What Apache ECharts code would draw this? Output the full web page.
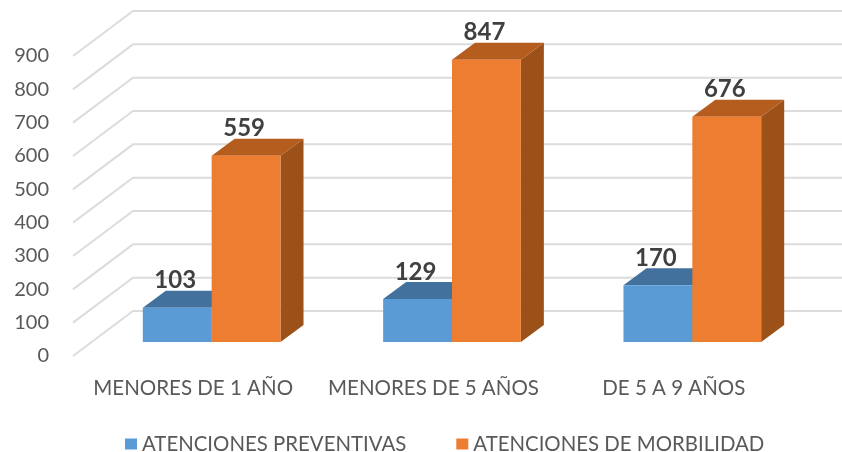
<!DOCTYPE html>
<html>
<head>
<meta charset="utf-8">
<title>Atenciones</title>
<script src="https://cdn.jsdelivr.net/npm/echarts@6/dist/echarts.min.js"></script>
<style>
html, body { margin: 0; padding: 0; background: #fff; }
#main { width: 842px; height: 452px; }
</style>
</head>
<body>
<div id="main"></div>
<script type="text/javascript">
var categories = ['MENORES DE 1 AÑO', 'MENORES DE 5 AÑOS', 'DE 5 A 9 AÑOS'];
var preventivas = [103, 129, 170];
var morbilidad = [559, 847, 676];
var yTicks = [0, 100, 200, 300, 400, 500, 600, 700, 800, 900];

var FONT = 'Lato, "Open Sans", sans-serif';
var chart = echarts.init(document.getElementById('main'));

// 3D bar: front, top and side faces around the point the axes give
function bar3d(colors, slot) {
    return function (params, api) {
        var base = api.coord([api.value(0), 0]);
        var top = api.coord([api.value(0), api.value(1)]);
        var w = api.size([1, 0])[0] * 0.2865;
        var x = base[0] + slot * w, yb = base[1], yt = top[1];
        var dx = 23, dy = 17;
        return {
            type: 'group',
            children: [
                { type: 'polygon', shape: { points: [[x + w, yt], [x + w + dx, yt - dy], [x + w + dx, yb - dy], [x + w, yb]] }, style: { fill: colors[2] } },
                { type: 'polygon', shape: { points: [[x, yt], [x + dx, yt - dy], [x + w + dx, yt - dy], [x + w, yt]] }, style: { fill: colors[1] } },
                { type: 'rect', shape: { x: x, y: yt, width: w, height: yb - yt }, style: { fill: colors[0] } },
                { type: 'text', z2: 10, style: {
                    x: x + w / 2 - 2, y: yt - dy - 10, text: String(api.value(1)),
                    align: 'center', verticalAlign: 'middle',
                    font: 'bold 24px ' + FONT, fill: '#404040'
                } }
            ]
        };
    };
}

// wall lines: floor diagonal from the front edge, then along the back wall
function wallLine(params, api) {
    var p = api.coord([0, api.value(0)]);
    var x0 = params.coordSys.x, dx = 60, dy = 45;
    return {
        type: 'polyline',
        shape: { points: [[x0, p[1]], [x0 + dx, p[1] - dy], [x0 + 800, p[1] - dy]] },
        style: { fill: null, stroke: '#dcdcdc', lineWidth: 2 }
    };
}

var option = {
    backgroundColor: '#fff',
    animation: false,
    legend: {
        data: ['ATENCIONES PREVENTIVAS', 'ATENCIONES DE MORBILIDAD'],
        left: 120, top: 429,
        icon: 'rect', itemWidth: 12, itemHeight: 11, itemGap: 50,
        textStyle: { fontFamily: FONT, fontSize: 20.4, color: '#595959' }
    },
    grid: [
        { left: 73, top: 56, width: 721, height: 300 },
        { left: 91.5, top: 42, width: 721, height: 300 }
    ],
    xAxis: [
        {
            type: 'category', gridIndex: 0, data: categories,
            axisLine: { show: false }, axisTick: { show: false },
            axisLabel: { interval: 0, margin: 22, fontFamily: FONT, fontSize: 20.5, color: '#595959' }
        },
        { type: 'category', gridIndex: 1, data: categories, show: false }
    ],
    yAxis: [
        {
            type: 'value', gridIndex: 0, min: 0, max: 900, interval: 100,
            axisLine: { show: false }, axisTick: { show: false }, splitLine: { show: false },
            axisLabel: { margin: 24, fontFamily: FONT, fontSize: 20, color: '#595959' }
        },
        { type: 'value', gridIndex: 1, min: 0, max: 900, interval: 100, show: false, splitLine: { show: false } }
    ],
    series: [
        {
            name: 'pared', type: 'custom', xAxisIndex: 0, yAxisIndex: 0, z: 1,
            renderItem: wallLine, encode: { y: 0 }, data: yTicks, silent: true
        },
        {
            name: 'ATENCIONES PREVENTIVAS', type: 'custom', xAxisIndex: 1, yAxisIndex: 1, z: 2,
            itemStyle: { color: '#5b9bd5' },
            renderItem: bar3d(['#5b9bd5', '#41719c', '#335a7d'], -1),
            encode: { x: 0, y: 1 },
            data: preventivas.map(function (v, i) { return [i, v]; })
        },
        {
            name: 'ATENCIONES DE MORBILIDAD', type: 'custom', xAxisIndex: 1, yAxisIndex: 1, z: 3,
            itemStyle: { color: '#ed7d31' },
            renderItem: bar3d(['#ed7d31', '#b55d1e', '#9b5118'], 0),
            encode: { x: 0, y: 1 },
            data: morbilidad.map(function (v, i) { return [i, v]; })
        }
    ]
};
chart.setOption(option);
</script>
</body>
</html>
